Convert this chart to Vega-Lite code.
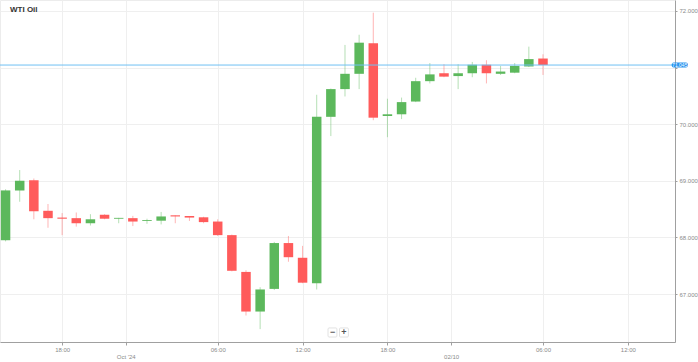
{
  "$schema": "https://vega.github.io/schema/vega-lite/v6.json",
  "width": 675,
  "height": 342,
  "autosize": {"type": "none"},
  "padding": {"left": 0, "top": 0, "right": 23, "bottom": 20},
  "background": "#ffffff",
  "title": {"text": "WTI Oil", "anchor": "start", "frame": "group", "dx": 10, "dy": 18, "fontSize": 8, "fontWeight": "bold", "font": "Liberation Sans", "color": "#333333"},
  "config": {
    "view": {"stroke": "#ececec"},
    "font": "Liberation Sans",
    "axis": {"grid": true, "gridColor": "#efefef", "domainColor": "#a0a0a0", "tickColor": "#a0a0a0", "labelColor": "#8a8a8a", "labelFontSize": 6, "labelFont": "Liberation Sans", "title": null, "tickSize": 3}
  },
  "datasets": {
    "candles": [
      {"i": 0, "t": "2024-09-30 14:00", "o": 67.95, "h": 68.85, "l": 67.93, "c": 68.83},
      {"i": 1, "t": "2024-09-30 15:00", "o": 68.83, "h": 69.19, "l": 68.63, "c": 69.0},
      {"i": 2, "t": "2024-09-30 16:00", "o": 69.01, "h": 69.04, "l": 68.32, "c": 68.46},
      {"i": 3, "t": "2024-09-30 17:00", "o": 68.47, "h": 68.59, "l": 68.17, "c": 68.34},
      {"i": 4, "t": "2024-09-30 18:00", "o": 68.35, "h": 68.43, "l": 68.04, "c": 68.33},
      {"i": 5, "t": "2024-09-30 19:00", "o": 68.34, "h": 68.44, "l": 68.19, "c": 68.25},
      {"i": 6, "t": "2024-09-30 20:00", "o": 68.25, "h": 68.41, "l": 68.21, "c": 68.32},
      {"i": 7, "t": "2024-09-30 21:00", "o": 68.4, "h": 68.41, "l": 68.32, "c": 68.33},
      {"i": 8, "t": "2024-09-30 22:00", "o": 68.33, "h": 68.345, "l": 68.25, "c": 68.345},
      {"i": 9, "t": "2024-10-01 00:00", "o": 68.34, "h": 68.38, "l": 68.2, "c": 68.28},
      {"i": 10, "t": "2024-10-01 01:00", "o": 68.29, "h": 68.33, "l": 68.24, "c": 68.305},
      {"i": 11, "t": "2024-10-01 02:00", "o": 68.295, "h": 68.45, "l": 68.23, "c": 68.37},
      {"i": 12, "t": "2024-10-01 03:00", "o": 68.39, "h": 68.39, "l": 68.25, "c": 68.37},
      {"i": 13, "t": "2024-10-01 04:00", "o": 68.378, "h": 68.378, "l": 68.29, "c": 68.35},
      {"i": 14, "t": "2024-10-01 05:00", "o": 68.355, "h": 68.365, "l": 68.25, "c": 68.27},
      {"i": 15, "t": "2024-10-01 06:00", "o": 68.28, "h": 68.32, "l": 68.025, "c": 68.04},
      {"i": 16, "t": "2024-10-01 07:00", "o": 68.04, "h": 68.05, "l": 67.4, "c": 67.41},
      {"i": 17, "t": "2024-10-01 08:00", "o": 67.39, "h": 67.42, "l": 66.62, "c": 66.69},
      {"i": 18, "t": "2024-10-01 09:00", "o": 66.69, "h": 67.12, "l": 66.38, "c": 67.08},
      {"i": 19, "t": "2024-10-01 10:00", "o": 67.09, "h": 67.92, "l": 67.07, "c": 67.9},
      {"i": 20, "t": "2024-10-01 11:00", "o": 67.9, "h": 68.025, "l": 67.57, "c": 67.65},
      {"i": 21, "t": "2024-10-01 12:00", "o": 67.64, "h": 67.85, "l": 67.19, "c": 67.2},
      {"i": 22, "t": "2024-10-01 13:00", "o": 67.19, "h": 70.52, "l": 67.08, "c": 70.13},
      {"i": 23, "t": "2024-10-01 14:00", "o": 70.13, "h": 70.63, "l": 69.79, "c": 70.62},
      {"i": 24, "t": "2024-10-01 15:00", "o": 70.62, "h": 71.4, "l": 70.49, "c": 70.89},
      {"i": 25, "t": "2024-10-01 16:00", "o": 70.89, "h": 71.58, "l": 70.62, "c": 71.44},
      {"i": 26, "t": "2024-10-01 17:00", "o": 71.43, "h": 71.97, "l": 70.07, "c": 70.115},
      {"i": 27, "t": "2024-10-01 18:00", "o": 70.145, "h": 70.45, "l": 69.77, "c": 70.175},
      {"i": 28, "t": "2024-10-01 19:00", "o": 70.175, "h": 70.47, "l": 70.09, "c": 70.39},
      {"i": 29, "t": "2024-10-01 20:00", "o": 70.4, "h": 70.82, "l": 70.39, "c": 70.76},
      {"i": 30, "t": "2024-10-01 21:00", "o": 70.76, "h": 71.08, "l": 70.72, "c": 70.88},
      {"i": 31, "t": "2024-10-01 22:00", "o": 70.9, "h": 71.06, "l": 70.83, "c": 70.84},
      {"i": 32, "t": "2024-10-02 00:00", "o": 70.85, "h": 71.06, "l": 70.62, "c": 70.9},
      {"i": 33, "t": "2024-10-02 01:00", "o": 70.9, "h": 71.1, "l": 70.83, "c": 71.05},
      {"i": 34, "t": "2024-10-02 02:00", "o": 71.05, "h": 71.13, "l": 70.72, "c": 70.9},
      {"i": 35, "t": "2024-10-02 03:00", "o": 70.89, "h": 71.03, "l": 70.87, "c": 70.93},
      {"i": 36, "t": "2024-10-02 04:00", "o": 70.91, "h": 71.08, "l": 70.9, "c": 71.03},
      {"i": 37, "t": "2024-10-02 05:00", "o": 71.02, "h": 71.37, "l": 71.01, "c": 71.15},
      {"i": 38, "t": "2024-10-02 06:00", "o": 71.16, "h": 71.235, "l": 70.87, "c": 71.045}
    ],
    "last": [{"price": 71.045, "label": "71.045"}]
  },
  "data": {"name": "candles"},
  "layer": [
    {
      "mark": {"type": "rule", "strokeWidth": 1, "opacity": 0.45, "clip": true},
      "encoding": {
        "x": {
          "field": "i", "type": "quantitative",
          "scale": {"domain": [-0.04, 46.98], "nice": false, "zero": false},
          "axis": {
            "orient": "bottom",
            "values": [4, 8.5, 15, 21, 27, 31.5, 38, 44],
            "labelExpr": "datum.value == 4 ? '18:00' : datum.value == 8.5 ? ['', \"Oct '24\"] : datum.value == 15 ? '06:00' : datum.value == 21 ? '12:00' : datum.value == 27 ? '18:00' : datum.value == 31.5 ? ['', '02/10'] : datum.value == 38 ? '06:00' : '12:00'",
            "labelPadding": 1,
            "labelLineHeight": 7,
            "labelBaseline": "top",
            "labelFlush": false,
            "labelOverlap": false
          }
        },
        "y": {
          "field": "l", "type": "quantitative",
          "scale": {"domain": [66.152, 72.194], "nice": false, "zero": false},
          "axis": {
            "orient": "right",
            "values": [67, 68, 69, 70, 71, 72],
            "labelExpr": "datum.value == 71 ? '' : format(datum.value, '.3f')",
            "labelPadding": 2,
            "tickSize": 2
          }
        },
        "y2": {"field": "h"},
        "color": {"condition": {"test": "datum.c >= datum.o", "value": "#5cb85c"}, "value": "#ff5b5b"}
      }
    },
    {
      "mark": {"type": "bar", "size": 9.5, "clip": true},
      "encoding": {
        "x": {"field": "i", "type": "quantitative"},
        "y": {"field": "o", "type": "quantitative"},
        "y2": {"field": "c"},
        "color": {"condition": {"test": "datum.c >= datum.o", "value": "#5cb85c"}, "value": "#ff5b5b"}
      }
    },
    {
      "data": {"name": "last"},
      "mark": {"type": "rule", "color": "#6fc0f3", "strokeWidth": 1},
      "encoding": {
        "y": {"field": "price", "type": "quantitative"}
      }
    },
    {
      "data": {"name": "last"},
      "mark": {"type": "rect", "color": "#2a95ee", "cornerRadius": 2},
      "encoding": {
        "x": {"datum": 47.1, "type": "quantitative"},
        "x2": {"datum": 48.25},
        "y": {"datum": 71.0, "type": "quantitative"},
        "y2": {"datum": 71.09}
      }
    },
    {
      "data": {"name": "last"},
      "mark": {"type": "text", "color": "#ffffff", "fontSize": 5, "align": "center", "baseline": "middle", "font": "Liberation Sans"},
      "encoding": {
        "x": {"datum": 47.67, "type": "quantitative"},
        "y": {"field": "price", "type": "quantitative"},
        "text": {"field": "label"}
      }
    },
    {
      "data": {"values": [{"s": "−"}]},
      "mark": {"type": "rect", "fill": "#ffffff", "stroke": "#e2e2e2", "strokeWidth": 1, "cornerRadius": 1},
      "encoding": {
        "x": {"datum": 22.8, "type": "quantitative"},
        "x2": {"datum": 23.43},
        "y": {"datum": 66.4, "type": "quantitative"},
        "y2": {"datum": 66.24}
      }
    },
    {
      "data": {"values": [{"s": "+"}]},
      "mark": {"type": "rect", "fill": "#ffffff", "stroke": "#e2e2e2", "strokeWidth": 1, "cornerRadius": 1},
      "encoding": {
        "x": {"datum": 23.61, "type": "quantitative"},
        "x2": {"datum": 24.24},
        "y": {"datum": 66.4, "type": "quantitative"},
        "y2": {"datum": 66.24}
      }
    },
    {
      "data": {"values": [{"s": "−"}]},
      "mark": {"type": "text", "color": "#555555", "fontSize": 9, "align": "center", "baseline": "middle", "fontWeight": "bold"},
      "encoding": {
        "x": {"datum": 23.12, "type": "quantitative"},
        "y": {"datum": 66.32, "type": "quantitative"},
        "text": {"field": "s"}
      }
    },
    {
      "data": {"values": [{"s": "+"}]},
      "mark": {"type": "text", "color": "#555555", "fontSize": 9, "align": "center", "baseline": "middle", "fontWeight": "bold"},
      "encoding": {
        "x": {"datum": 23.92, "type": "quantitative"},
        "y": {"datum": 66.32, "type": "quantitative"},
        "text": {"field": "s"}
      }
    }
  ]
}
